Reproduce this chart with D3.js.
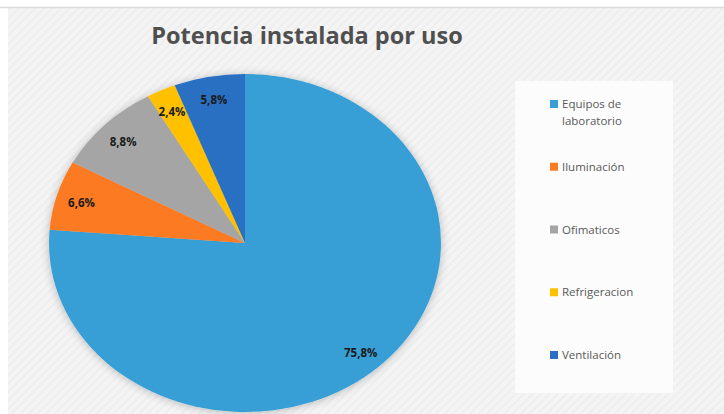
<!DOCTYPE html>
<html>
<head>
<meta charset="utf-8">
<script src="https://cdn.jsdelivr.net/npm/d3@7"></script>
<style>
  html, body { margin: 0; padding: 0; background: #fff; }
  svg { display: block; }
</style>
</head>
<body>
<div id="chart"></div>
<script>
// --- DATA ---
const categories = ["Equipos de laboratorio", "Iluminación", "Ofimaticos", "Refrigeracion", "Ventilación"];
const legendLines = [["Equipos de", "laboratorio"], ["Iluminación"], ["Ofimaticos"], ["Refrigeracion"], ["Ventilación"]];
const values = [75.8, 6.6, 8.8, 2.4, 5.8];
const colors = ["#389fd6", "#fb7a22", "#a5a5a5", "#ffc000", "#2a6fc2"];
const title = "Potencia instalada por uso";

// --- SETUP ---
const width = 724, height = 414;
const cx = 245, cy = 243;        // pie centre
const rx = 196, ry = 169;        // pie is drawn stretched horizontally

const locale = d3.formatLocale({decimal: ",", thousands: ".", grouping: [3], currency: ["", "€"]});
const fmt = locale.format(".1f");

const svg = d3.select("#chart").append("svg")
  .attr("width", width)
  .attr("height", height);

const defs = svg.append("defs");

// subtle diagonal texture for the chart background
const pat = defs.append("pattern")
  .attr("id", "tex")
  .attr("width", 6).attr("height", 6)
  .attr("patternUnits", "userSpaceOnUse")
  .attr("patternTransform", "rotate(45)");
pat.append("rect").attr("width", 6).attr("height", 6).attr("fill", "#f4f4f4");
pat.append("rect").attr("width", 2).attr("height", 6).attr("fill", "#eeeeee");

// soft shadow round the pie
const shadow = defs.append("filter").attr("id", "shadow")
  .attr("x", "-20%").attr("y", "-20%").attr("width", "140%").attr("height", "140%");
shadow.append("feGaussianBlur").attr("in", "SourceAlpha").attr("stdDeviation", 4);
shadow.append("feOffset").attr("dx", 0).attr("dy", 1).attr("result", "b");
shadow.append("feComponentTransfer").append("feFuncA").attr("type", "linear").attr("slope", 0.25);
const merge = shadow.append("feMerge");
merge.append("feMergeNode");
merge.append("feMergeNode").attr("in", "SourceGraphic");

// background: white frame, thin grey line on top, textured area
svg.append("rect").attr("width", width).attr("height", height).attr("fill", "#ffffff");
svg.append("rect").attr("x", 8).attr("y", 8).attr("width", width - 8).attr("height", height - 8)
  .attr("fill", "url(#tex)");
svg.append("line").attr("x1", 0).attr("x2", width).attr("y1", 7.5).attr("y2", 7.5)
  .attr("stroke", "#dadada").attr("stroke-width", 1.5);

// --- TITLE ---
svg.append("text")
  .attr("x", 307).attr("y", 44)
  .attr("text-anchor", "middle")
  .style("font-family", "'Open Sans', 'Noto Sans', sans-serif")
  .style("font-size", "23.5px")
  .style("font-weight", "700")
  .style("fill", "#4f4f4f")
  .text(title);

// --- PIE ---
const pie = d3.pie().sort(null).value(d => d)(values);
const arc = d3.arc().innerRadius(0).outerRadius(ry);
const labelArc = d3.arc().innerRadius(ry * 0.87).outerRadius(ry * 0.87);

const pieG = svg.append("g")
  .attr("transform", `translate(${cx},${cy})`);

pieG.append("g")
  .attr("transform", `scale(${rx / ry},1)`)
  .attr("filter", "url(#shadow)")
  .selectAll("path")
  .data(pie)
  .enter()
  .append("path")
  .attr("d", arc)
  .attr("fill", (d, i) => colors[i]);

pieG.selectAll(".lbl")
  .data(pie)
  .enter()
  .append("text")
  .attr("class", "lbl")
  .attr("x", d => labelArc.centroid(d)[0] * rx / ry)
  .attr("y", d => labelArc.centroid(d)[1])
  .attr("dy", "0.5em")
  .attr("text-anchor", "middle")
  .style("font-family", "'Open Sans', 'Noto Sans', sans-serif")
  .style("font-size", "11.5px")
  .style("font-weight", "700")
  .style("fill", "#1a1a1a")
  .text(d => fmt(d.data) + "%");

// --- LEGEND ---
svg.append("rect")
  .attr("x", 515).attr("y", 81)
  .attr("width", 158).attr("height", 312)
  .attr("fill", "#fcfcfc");

const legendY = d3.scalePoint()
  .domain(categories)
  .range([104, 355]);

const item = svg.append("g").selectAll("g")
  .data(categories)
  .enter()
  .append("g")
  .attr("transform", d => `translate(550,${legendY(d)})`);

item.append("rect")
  .attr("x", 0).attr("y", -4)
  .attr("width", 8).attr("height", 8)
  .attr("fill", (d, i) => colors[i]);

item.append("text")
  .attr("x", 12).attr("y", 0)
  .style("font-family", "'Open Sans', 'Noto Sans', sans-serif")
  .style("font-size", "11.5px")
  .style("fill", "#595959")
  .selectAll("tspan")
  .data((d, i) => legendLines[i])
  .enter()
  .append("tspan")
  .attr("x", 12)
  .attr("dy", (d, j) => j === 0 ? "0.35em" : "1.45em")
  .text(d => d);
</script>
</body>
</html>
